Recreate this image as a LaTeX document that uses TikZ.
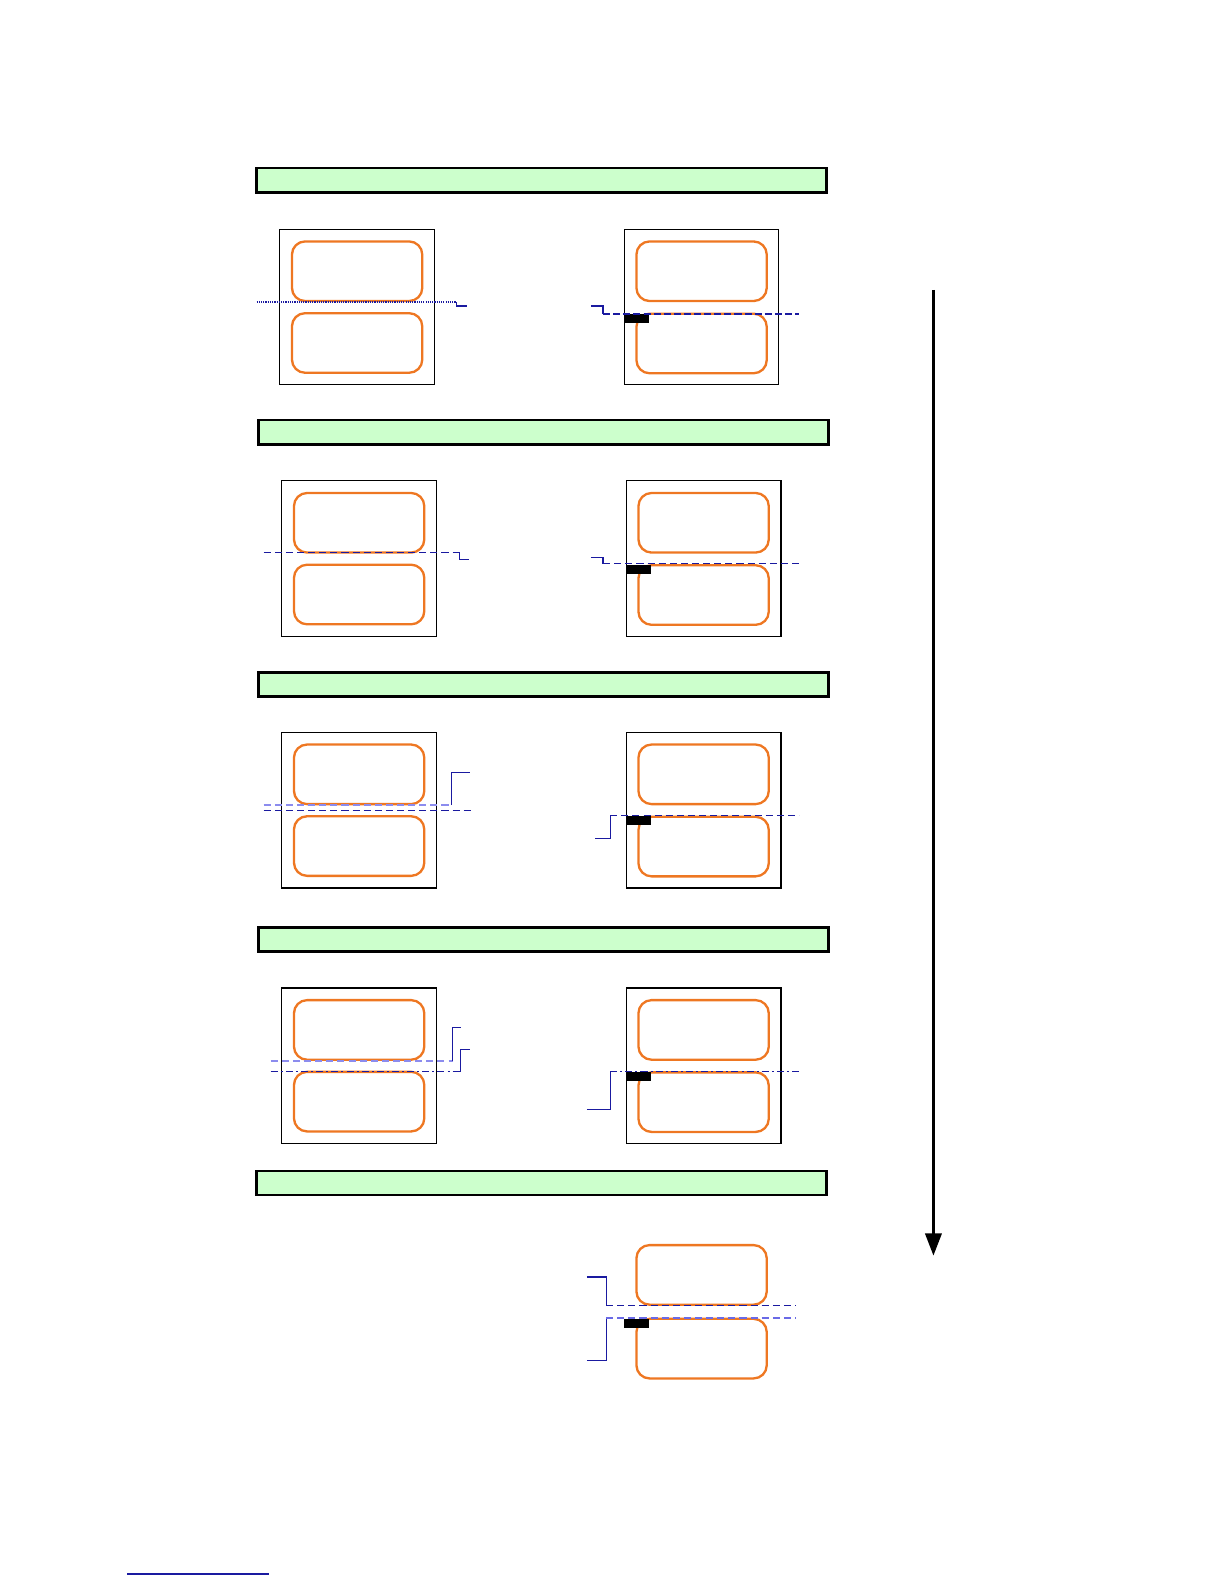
\documentclass[tikz,border=0pt]{standalone}
\usetikzlibrary{arrows.meta}
\definecolor{barfill}{HTML}{CCFFCC}
\definecolor{lab}{HTML}{EE7722}
\definecolor{dblue}{HTML}{1A1AA0}
\definecolor{lblue}{HTML}{8C8CEE}
\definecolor{mblue}{HTML}{6A6AE6}
\begin{document}
\begin{tikzpicture}[x=1pt,y=-1pt,
  bar/.style={draw=black,line width=2.4pt,fill=barfill,minimum width=564pt,minimum height=24pt,inner sep=0pt},
  sheet/.style={draw=black,line width=1.2pt,minimum width=153pt,minimum height=154pt,inner sep=0pt},
  label/.style={draw=lab,line width=2.3pt,rounded corners=13pt,minimum width=129pt,minimum height=59pt,inner sep=0pt},
  gap/.style={fill=black,minimum width=24pt,minimum height=9pt,inner sep=0pt},
  lead/.style={draw=dblue,line width=1.2pt},
  cut/.style={draw=dblue,line width=1.2pt,dash pattern=on 7pt off 4pt},
  cutlight/.style={draw=lblue,line width=2.2pt,dash pattern=on 7pt off 4pt},
  flow/.style={line width=3pt,-{Triangle[width=16pt,length=22pt]}}]
\useasboundingbox (0,0) rectangle (1212,1568);

% ---------- Panel 1 ----------
\node[bar] (b1) at (536,178.5) {};
\node[sheet] (s1l) at (353.5,304) {};
\node[label] (l1lt) at (353.5,268.5) {};
\node[label] (l1lb) at (353.5,339.5) {};
\draw[lead,densely dotted] (254,299) -- (452,299);
\draw[lead] (452,299) -- (452,303) -- (462,303);
\node[sheet] (s1r) at (694.5,304) {};
\node[label] (l1rt) at (694.5,268.5) {};
\node[label] (l1rb) at (694.5,340) {};
\node[gap] (g1) at (630.5,315) {};
\draw[lead] (585,303) -- (597,303) -- (597,311);
\draw[draw=dblue,line width=2.2pt,dash pattern=on 7pt off 3pt] (597,311) -- (791,311);

% ---------- Panel 2 ----------
\node[bar] (b2) at (538,428) {};
\node[sheet] (s2l) at (355.5,553) {};
\node[label] (l2lt) at (355.5,517.5) {};
\node[label] (l2lb) at (355.5,588.5) {};
\draw[cut] (261,547) -- (455,547);
\draw[lead] (455,547) -- (455,554) -- (464,554);
\node[sheet] (s2r) at (696.5,553) {};
\node[label] (l2rt) at (696.5,517.5) {};
\node[label] (l2rb) at (696.5,589) {};
\node[gap] (g2) at (632.5,563.5) {};
\draw[lead] (585,552) -- (597,552) -- (597,558);
\draw[cut] (597,558) -- (791,558);

% ---------- Panel 3 ----------
\node[bar] (b3) at (538,677.5) {};
\node[sheet] (s3l) at (355.5,802) {};
\node[label] (l3lt) at (355.5,766.5) {};
\node[label] (l3lb) at (355.5,837.5) {};
\draw[cutlight] (261,797) -- (447,797);
\draw[lead] (447,797) -- (447,765) -- (465,765);
\draw[cut] (261,802) -- (466,802);
\node[sheet] (s3r) at (696.5,802) {};
\node[label] (l3rt) at (696.5,766.5) {};
\node[label] (l3rb) at (696.5,838) {};
\node[gap] (g3) at (632.5,812) {};
\draw[lead] (589,830) -- (604,830) -- (604,807);
\draw[cut] (604,807) -- (791,807);

% ---------- Panel 4 ----------
\node[bar] (b4) at (538,930) {};
\node[sheet] (s4l) at (355.5,1055) {};
\node[label] (l4lt) at (355.5,1019.5) {};
\node[label] (l4lb) at (355.5,1090.5) {};
\draw[cutlight] (268,1050) -- (448,1050);
\draw[lead] (448,1050) -- (448,1017) -- (456,1017);
\draw[draw=dblue,line width=1.2pt,dash pattern=on 7pt off 3pt on 2pt off 3pt] (268,1061) -- (456,1061);
\draw[lead] (456,1061) -- (456,1039) -- (465,1039);
\node[sheet] (s4r) at (696.5,1055) {};
\node[label] (l4rt) at (696.5,1019.5) {};
\node[label] (l4rb) at (696.5,1091) {};
\node[gap] (g4) at (632.5,1065.5) {};
\draw[lead] (581,1098) -- (604,1098) -- (604,1061);
\draw[draw=dblue,line width=1.2pt,dash pattern=on 7pt off 3pt on 2pt off 3pt] (604,1061) -- (791,1061);

% ---------- Panel 5 ----------
\node[bar] (b5) at (536,1171) {};
\node[label] (l5t) at (694.5,1262) {};
\node[label] (l5b) at (694.5,1335) {};
\node[gap] (g5) at (630,1310) {};
\draw[lead] (581,1264) -- (600,1264) -- (600,1292);
\draw[cut] (600,1292) -- (788,1292);
\draw[lead] (581,1347) -- (600,1347) -- (600,1305);
\draw[draw=mblue,line width=1.8pt,dash pattern=on 7pt off 4pt] (600,1305) -- (788,1305);

% ---------- flow arrow ----------
\coordinate (fa) at (924,287);
\coordinate (fb) at (924,1243);
\draw[flow] (fa) -- (fb);

% ---------- footnote rule ----------
\coordinate (fr1) at (126,1558);
\coordinate (fr2) at (266,1558);
\draw[draw=dblue,line width=1.2pt] (fr1) -- (fr2);
\end{tikzpicture}
\end{document}
